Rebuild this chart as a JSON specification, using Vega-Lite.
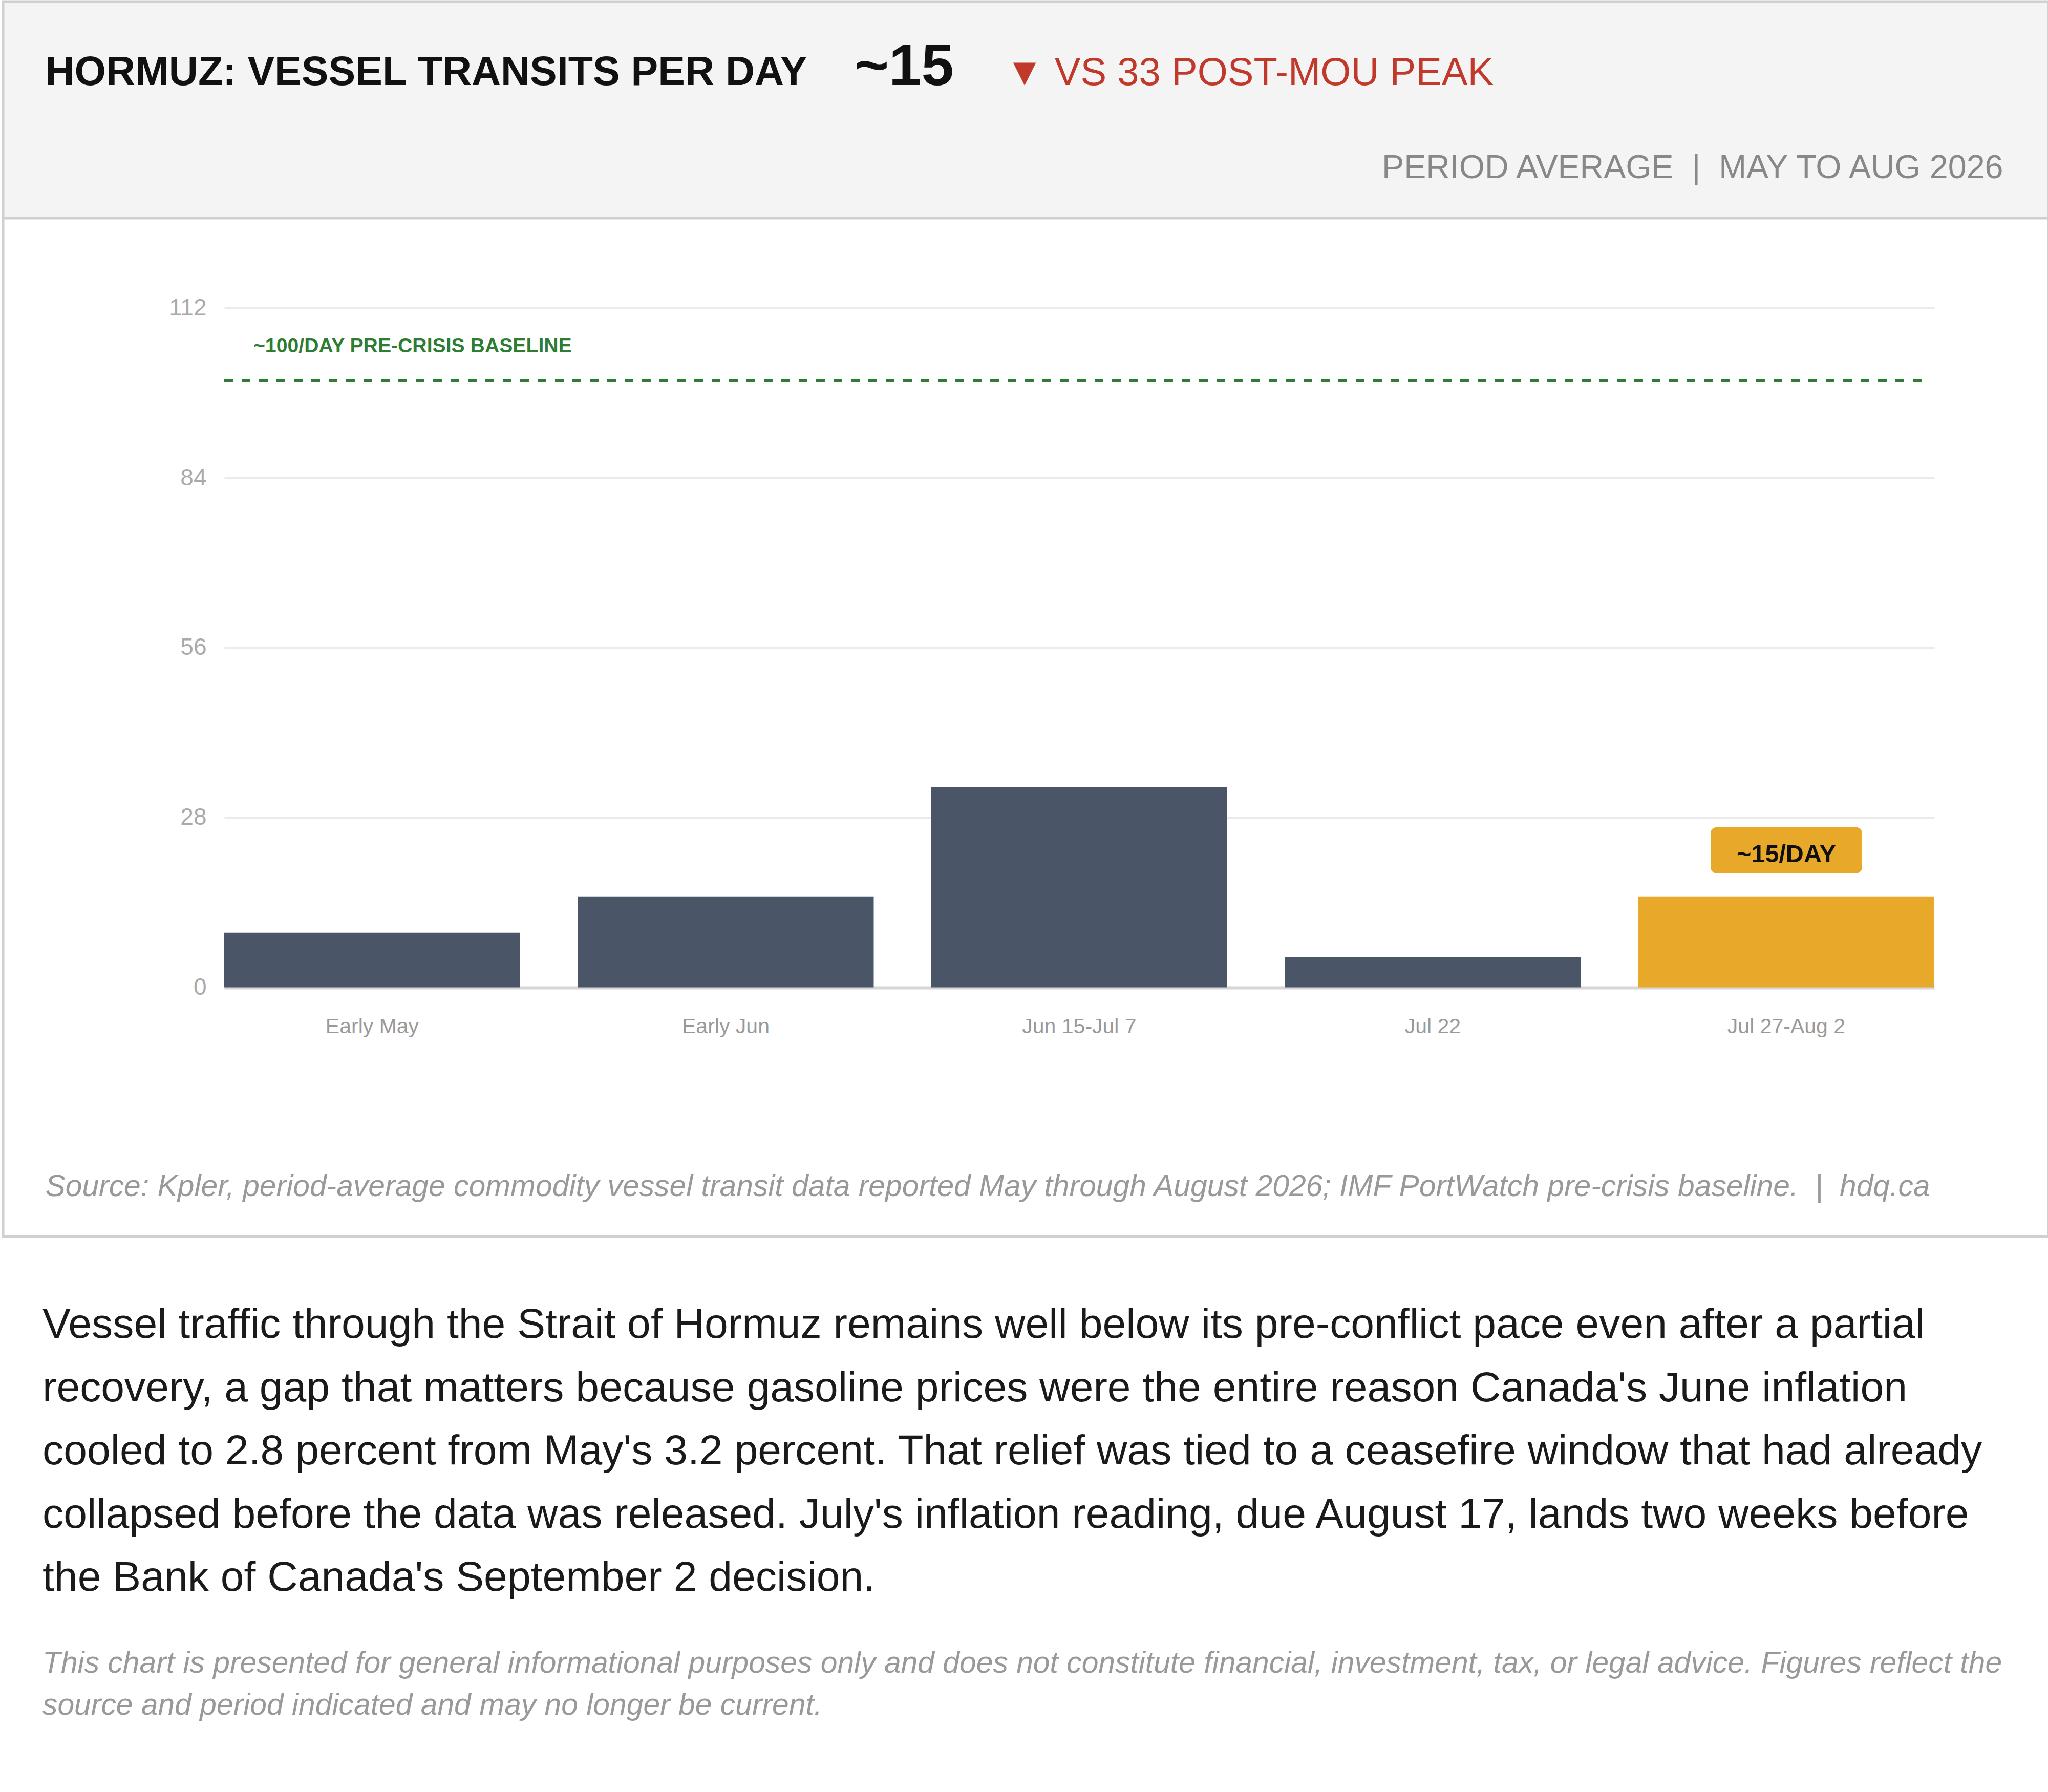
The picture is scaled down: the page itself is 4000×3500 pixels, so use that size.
{
  "$schema": "https://vega.github.io/schema/vega-lite/v6.json",
  "background": "white",
  "padding": 0,
  "autosize": {"type": "pad"},
  "spacing": 0,
  "bounds": "flush",
  "config": {
    "font": "Liberation Sans",
    "axis": {"labelFont": "Liberation Sans", "titleFont": "Liberation Sans"},
    "title": {"font": "Liberation Sans", "subtitleFont": "Liberation Sans"}
  },
  "datasets": {
    "transits": [
      {"period": "Early May", "vessels_per_day": 9},
      {"period": "Early Jun", "vessels_per_day": 15},
      {"period": "Jun 15-Jul 7", "vessels_per_day": 33},
      {"period": "Jul 22", "vessels_per_day": 5},
      {"period": "Jul 27-Aug 2", "vessels_per_day": 15}
    ],
    "baseline": [
      {"label": "~100/DAY PRE-CRISIS BASELINE", "vessels_per_day": 100, "start": "Early May", "end": "Jul 27-Aug 2"}
    ],
    "callout": [
      {"period": "Jul 27-Aug 2", "vessels_per_day": 15, "label": "~15/DAY"}
    ],
    "header": [{"h": 0}]
  },
  "vconcat": [
    {
      "width": 3995,
      "height": 423,
      "view": {"fill": "#f4f4f4", "stroke": "#d0d0d0", "strokeWidth": 5},
      "data": {"name": "header"},
      "layer": [
        {
          "mark": {"type": "point", "opacity": 0},
          "encoding": {
            "x": {
              "field": "h", "type": "quantitative", "scale": {"domain": [0, 1]},
              "axis": {
                "orient": "bottom", "labels": false, "ticks": false, "domain": false, "grid": false,
                "title": "HORMUZ: VESSEL TRANSITS PER DAY",
                "titleX": 82, "titleY": -260.5, "titleAlign": "left", "titleAnchor": "start",
                "titleAngle": 0, "titleBaseline": "alphabetic", "titleLimit": 4000,
                "titleFontSize": 79, "titleFontWeight": "bold", "titleColor": "#111111"
              }
            },
            "y": {
              "field": "h", "type": "quantitative", "scale": {"domain": [0, 1]},
              "axis": {
                "orient": "left", "labels": false, "ticks": false, "domain": false, "grid": false,
                "title": "~15",
                "titleX": 1663, "titleY": 162.5, "titleAlign": "left", "titleAnchor": "start",
                "titleAngle": 0, "titleBaseline": "alphabetic", "titleLimit": 4000,
                "titleFontSize": 114, "titleFontWeight": "bold", "titleColor": "#111111"
              }
            }
          }
        },
        {
          "mark": {"type": "point", "opacity": 0},
          "encoding": {
            "x": {
              "field": "h", "type": "quantitative", "scale": {"domain": [0, 1]},
              "axis": {
                "orient": "top", "labels": false, "ticks": false, "domain": false, "grid": false,
                "title": "▼ VS 33 POST-MOU PEAK",
                "titleX": 1957, "titleY": 162.5, "titleAlign": "left", "titleAnchor": "start",
                "titleAngle": 0, "titleBaseline": "alphabetic", "titleLimit": 4000,
                "titleFontSize": 76, "titleFontWeight": "normal", "titleColor": "#c0392b"
              }
            },
            "y": {
              "field": "h", "type": "quantitative", "scale": {"domain": [0, 1]},
              "axis": {
                "orient": "right", "labels": false, "ticks": false, "domain": false, "grid": false,
                "title": "PERIOD AVERAGE\u00a0 |\u00a0 MAY TO AUG 2026",
                "titleX": -89, "titleY": 344.5, "titleAlign": "right", "titleAnchor": "end",
                "titleAngle": 0, "titleBaseline": "alphabetic", "titleLimit": 4000,
                "titleFontSize": 64.6, "titleFontWeight": "normal", "titleColor": "#888888"
              }
            }
          }
        }
      ],
      "resolve": {"scale": {"x": "independent", "y": "independent"}}
    },
    {
      "width": 3995,
      "height": 1989,
      "view": {"fill": "#ffffff", "stroke": "#d0d0d0", "strokeWidth": 5},
      "title": {
        "text": [
          "Vessel traffic through the Strait of Hormuz remains well below its pre-conflict pace even after a partial",
          "recovery, a gap that matters because gasoline prices were the entire reason Canada's June inflation",
          "cooled to 2.8 percent from May's 3.2 percent. That relief was tied to a ceasefire window that had already",
          "collapsed before the data was released. July's inflation reading, due August 17, lands two weeks before",
          "the Bank of Canada's September 2 decision."
        ],
        "subtitle": [
          "This chart is presented for general informational purposes only and does not constitute financial, investment, tax, or legal advice. Figures reflect the",
          "source and period indicated and may no longer be current."
        ],
        "orient": "bottom",
        "anchor": "start",
        "frame": "group",
        "offset": 198,
        "dx": 77,
        "baseline": "alphabetic",
        "fontSize": 82.3,
        "fontWeight": "normal",
        "color": "#1a1a1a",
        "lineHeight": 123.5,
        "subtitleFontSize": 58.8,
        "subtitleFontStyle": "italic",
        "subtitleColor": "#999999",
        "subtitleLineHeight": 82,
        "subtitlePadding": 78
      },
      "layer": [
        {
          "data": {"name": "transits"},
          "mark": {"type": "bar"},
          "encoding": {
            "x": {
              "field": "period", "type": "nominal", "sort": null,
              "scale": {"domain": ["Early May", "Early Jun", "Jun 15-Jul 7", "Jul 22", "Jul 27-Aug 2"], "paddingInner": 0.1629, "paddingOuter": 0.4743, "align": 0.6595},
              "axis": {
                "orient": "bottom", "offset": -397.5, "ticks": false, "domain": false, "grid": false,
                "labelPadding": 0, "labelBaseline": "alphabetic", "labelAngle": 0, "labelLimit": 0,
                "labelFontSize": 41, "labelColor": "#999999",
                "title": "Source: Kpler, period-average commodity vessel transit data reported May through August 2026; IMF PortWatch pre-crisis baseline.\u00a0 |\u00a0 hdq.ca",
                "titleX": 82, "titleY": 318, "titleAlign": "left", "titleAnchor": "start",
                "titleBaseline": "alphabetic", "titleLimit": 4000,
                "titleFontSize": 58.8, "titleFontStyle": "italic", "titleFontWeight": "normal", "titleColor": "#999999"
              }
            },
            "y": {
              "field": "vessels_per_day", "type": "quantitative",
              "scale": {"domain": [-41.06, 126.81], "nice": false, "zero": false},
              "axis": {
                "orient": "left", "offset": -432, "values": [0, 28, 56, 84, 112],
                "ticks": false, "domain": false, "grid": false,
                "labelPadding": 35, "labelFontSize": 46, "labelColor": "#aaaaaa", "title": null
              }
            },
            "y2": {"datum": 0},
            "color": {
              "condition": {"test": "datum.period === 'Jul 27-Aug 2'", "value": "#e8a82a"},
              "value": "#4a5568"
            }
          }
        },
        {
          "data": {"name": "baseline"},
          "mark": {"type": "rule", "color": "#2e7d32", "strokeWidth": 6, "strokeDash": [17, 17]},
          "encoding": {
            "x": {
              "field": "start", "type": "nominal", "bandPosition": 0,
              "scale": {"domain": ["Early May", "Early Jun", "Jun 15-Jul 7", "Jul 22", "Jul 27-Aug 2"], "paddingInner": 0.1629, "paddingOuter": 0.4743, "align": 0.6595}
            },
            "x2": {"field": "end", "bandPosition": 0.98},
            "y": {
              "field": "vessels_per_day", "type": "quantitative",
              "scale": {"domain": [-41.06, 126.81], "nice": false, "zero": false},
              "axis": {
                "orient": "right", "offset": -223, "values": [0, 28, 56, 84, 112],
                "labels": false, "domain": false, "grid": false, "ticks": true,
                "tickSize": -3340,
                "tickColor": {"condition": {"test": "datum.value === 0", "value": "#d6d6d6"}, "value": "#ebebeb"},
                "tickWidth": {"condition": {"test": "datum.value === 0", "value": 6}, "value": 3},
                "title": null
              }
            }
          }
        },
        {
          "data": {"name": "baseline"},
          "mark": {"type": "text", "align": "left", "baseline": "alphabetic", "dx": 57, "dy": -56, "fontSize": 39.2, "fontWeight": "bold", "color": "#2e7d32"},
          "encoding": {
            "x": {"field": "start", "type": "nominal", "bandPosition": 0},
            "y": {"field": "vessels_per_day", "type": "quantitative", "axis": null},
            "text": {"field": "label"}
          }
        },
        {
          "data": {"name": "callout"},
          "mark": {
            "type": "point",
            "shape": "M -0.919 -0.304 L 0.919 -0.304 A 0.081 0.081 0 0 1 1 -0.223 L 1 0.223 A 0.081 0.081 0 0 1 0.919 0.304 L -0.919 0.304 A 0.081 0.081 0 0 1 -1 0.223 L -1 -0.223 A 0.081 0.081 0 0 1 -0.919 -0.304 Z",
            "size": 87616, "filled": true, "opacity": 1, "color": "#e8a82a", "strokeWidth": 0, "yOffset": -90
          },
          "encoding": {
            "x": {"field": "period", "type": "nominal"},
            "y": {"field": "vessels_per_day", "type": "quantitative", "axis": null}
          }
        },
        {
          "data": {"name": "callout"},
          "mark": {"type": "text", "align": "center", "baseline": "alphabetic", "dy": -67, "fontSize": 48.5, "fontWeight": "bold", "color": "#111111"},
          "encoding": {
            "x": {"field": "period", "type": "nominal"},
            "y": {"field": "vessels_per_day", "type": "quantitative", "axis": null},
            "text": {"field": "label"}
          }
        }
      ],
      "resolve": {"axis": {"y": "independent"}}
    }
  ]
}
